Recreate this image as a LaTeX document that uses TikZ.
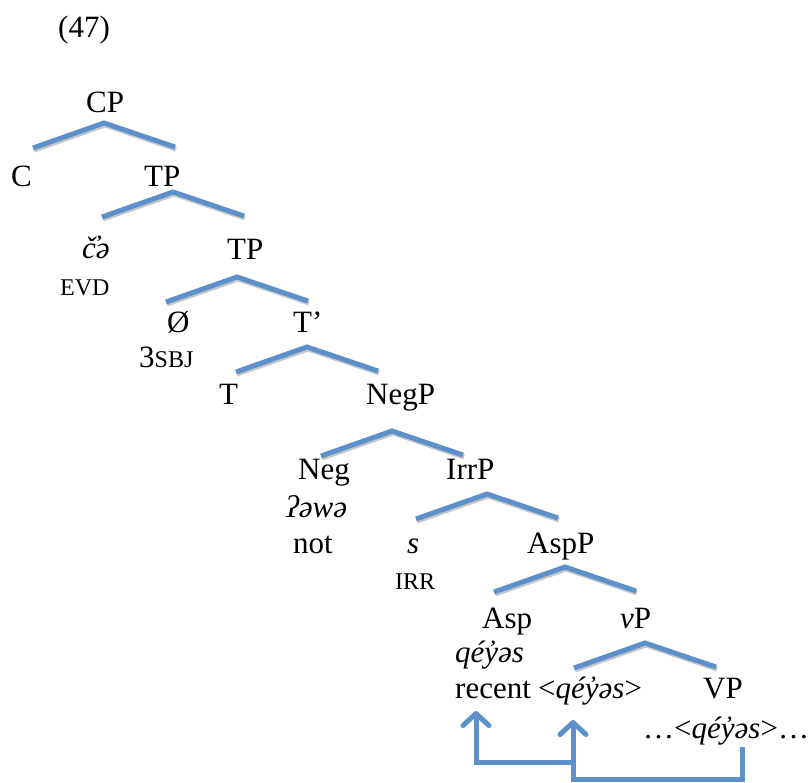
\documentclass[tikz,border=0pt]{standalone}
\usepackage{fontspec}
\setmainfont{Liberation Serif}
\usetikzlibrary{arrows.meta, math}
\definecolor{brblue}{RGB}{92,144,202}

\begin{document}
\begin{tikzpicture}[x=1pt, y=-1pt,
  lbl/.style={anchor=base west, inner sep=0pt, font=\fontsize{31}{37}\selectfont},
  gl/.style={anchor=base west, inner sep=0pt, font=\fontsize{24}{29}\selectfont},
  branch/.style={draw=brblue, line width=5pt,
    preaction={draw=black!22, line width=5pt, transform canvas={shift={(1pt,-2pt)}}}},
  move/.style={draw=brblue, line width=5pt, -{Straight Barb[length=12pt,width=26pt,round]}}]
\tikzmath{
\W=71;
\H=25;
}
\useasboundingbox (0,0) rectangle (811,782);

%labels
\node[lbl] (ex) at (58,37) {(47)};
\node[lbl] (cp) at (86,112) {CP};
\node[lbl] (c) at (11,186) {C};
\node[lbl] (tpa) at (144,186) {TP};
\node[lbl] (evd) at (82,258) {\textit{č̓ə}};
\node[gl] (evdgl) at (60,295) {EVD};
\node[lbl] (tpb) at (227,259) {TP};
\node[lbl] (pro) at (167,332) {Ø};
\node[lbl] (tbar) at (293,332) {T’};
\node[lbl] (sbj) at (139,367) {3{\fontsize{24}{29}\selectfont SBJ}};
\node[lbl] (t) at (219,404) {T};
\node[lbl] (negp) at (366,404) {NegP};
\node[lbl] (neg) at (298,479) {Neg};
\node[lbl] (irrp) at (446,479) {IrrP};
\node[lbl] (awa) at (286,517) {\textit{ʔəwə}};
\node[lbl] (not) at (293,553) {not};
\node[lbl] (irr) at (407,553) {\textit{s}};
\node[gl] (irrgl) at (395,589) {IRR};
\node[lbl] (aspp) at (527,553) {AspP};
\node[lbl] (asp) at (482,628) {Asp};
\node[lbl] (vp) at (620,628) {\textit{v}P};
\node[lbl] (aspv) at (455,662) {\textit{qéy̓əs}};
\node[lbl] (rec) at (455,698) {recent};
\node[lbl] (vcopy) at (538,698) {<\textit{qéy̓əs}>};
\node[lbl] (bigvp) at (703,698) {VP};
\node[lbl] (vpcopy) at (643,738) {…<\textit{qéy̓əs}>…};

%branches
\coordinate (cpb) at (104,123);
\coordinate (tpab) at (173,192);
\coordinate (tpbb) at (237,277);
\coordinate (tbarb) at (307,347);
\coordinate (negpb) at (392,431);
\coordinate (irrpb) at (487,494);
\coordinate (asppb) at (565,567);
\coordinate (vpb) at (645,643);
\foreach \b in {cpb,tpab,tpbb,tbarb,negpb,irrpb,asppb,vpb}
  \draw[branch] ([shift={(-\W,\H)}]\b) -- (\b) -- ([shift={(\W,\H-1)}]\b);

%movement
\coordinate (mva) at (575,762);
\coordinate (mvat) at (476,711);
\coordinate (mvb) at (742,747);
\coordinate (mvbb) at (742,779);
\coordinate (mvbt) at (573,720);
\draw[move] (mva) -| (mvat);
\draw[move] (mvb) -- (mvbb) -| (mvbt);

\end{tikzpicture}
\end{document}
